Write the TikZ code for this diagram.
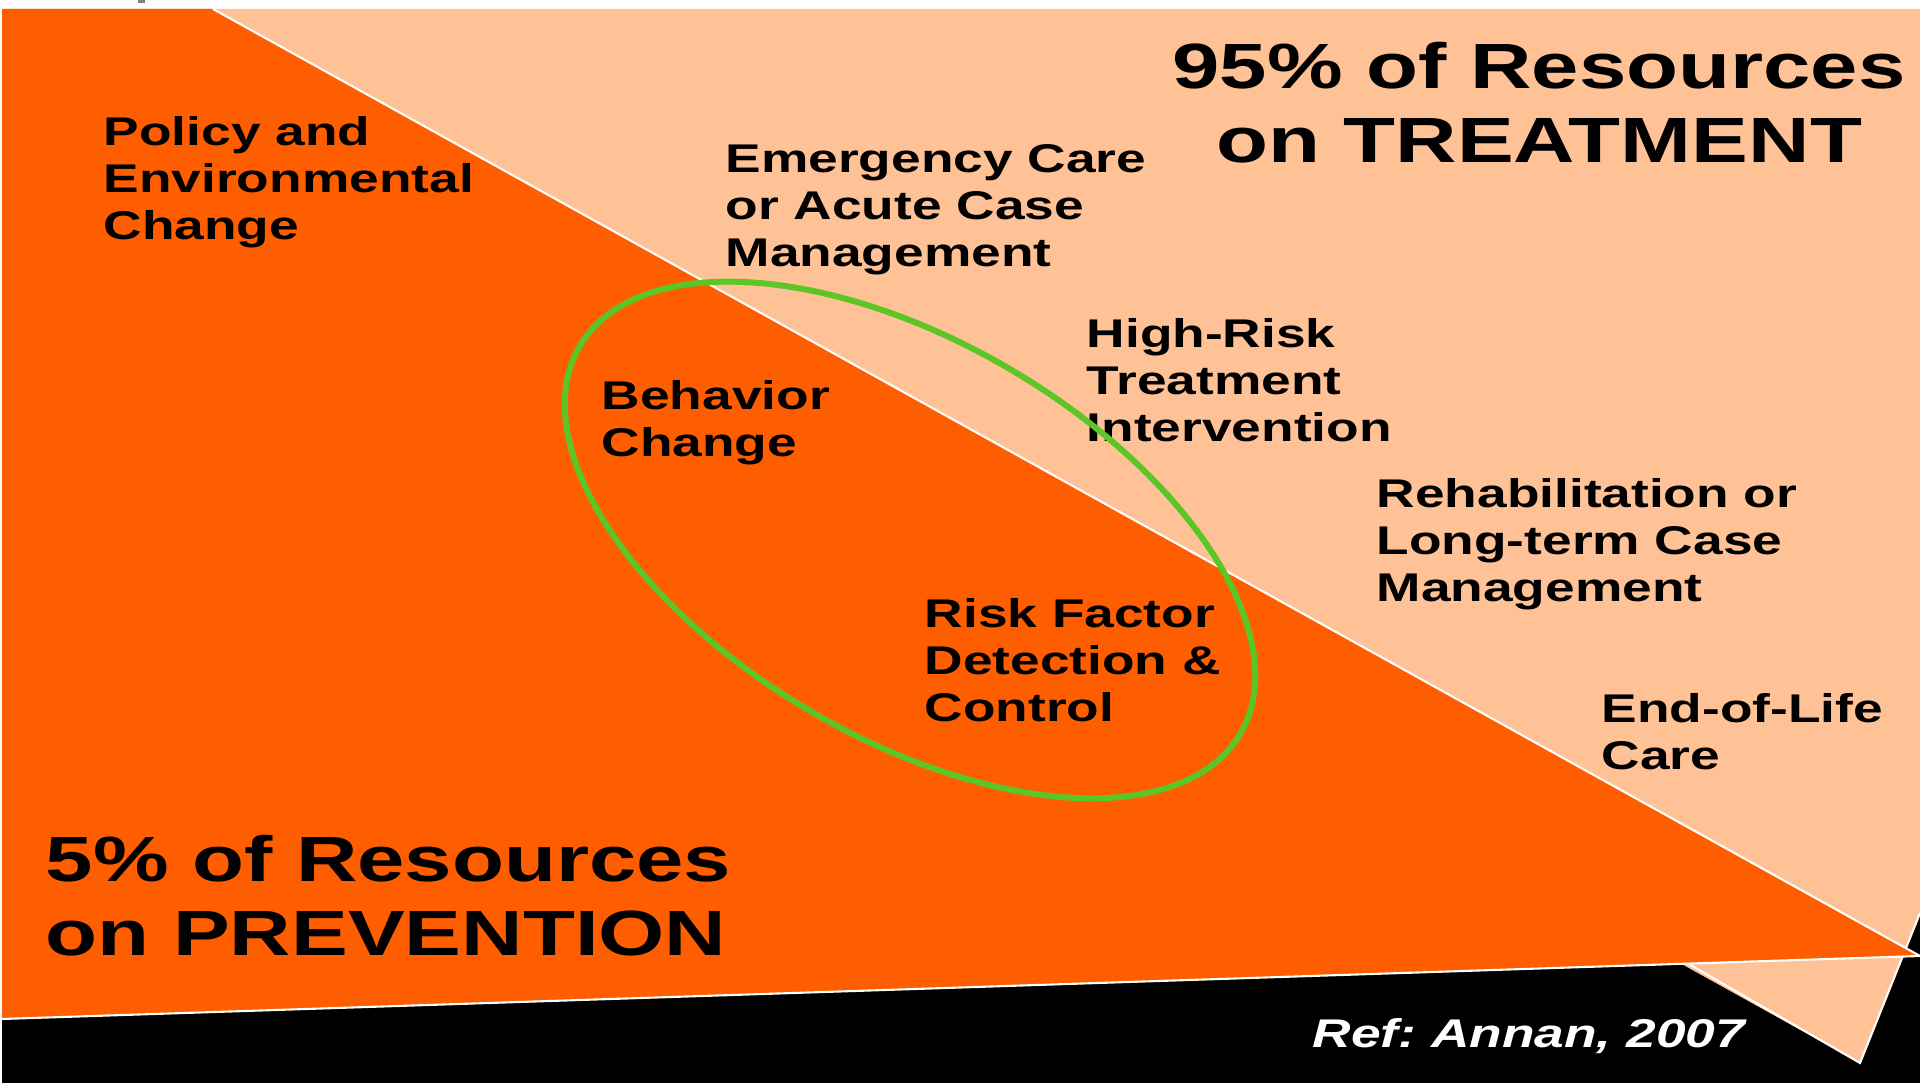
\documentclass[tikz,border=0pt]{standalone}
\usepackage{fontspec}
\setmainfont[FakeStretch=1.33]{Liberation Sans}
\frenchspacing

\definecolor{prevorange}{RGB}{255,94,0}
\definecolor{treatpeach}{RGB}{255,193,150}
\definecolor{ringgreen}{RGB}{92,198,38}

\begin{document}
\begin{tikzpicture}[
    stage/.style={anchor=base west, align=left, inner sep=0,
        font=\fontsize{11.4}{13.4}\selectfont\bfseries},
    share/.style={inner sep=0, font=\fontsize{18.2}{21.3}\selectfont\bfseries}]
    \useasboundingbox (0,0) rectangle (19.2,10.83);
    \fill [white] (0,0) rectangle (19.2,10.83);
    \fill [gray] (1.38,10.83) rectangle (1.45,10.80);

    % black floor, treatment wedge, prevention wedge
    \fill [black] (0.02,0) rectangle (19.2,10.74);
    \fill [treatpeach] (18.60,0.20) -- (19.20,1.70) -- (19.20,10.74) -- (0.02,10.74) -- (0.02,10.51) -- cycle;
    \draw [white, line width=0.6pt] (16.87,1.20) -- (18.60,0.20) -- (19.20,1.70);
    \fill [prevorange] (2.13,10.74) -- (19.20,1.27) -- (0.02,0.64) -- (0.02,10.74) -- cycle;
    \draw [white, line width=0.6pt] (2.13,10.74) -- (19.20,1.27) -- (0.02,0.64);

    % stages (base = last line)
    \node (policy) at (1.03,8.43) [stage] {Policy and\\Environmental\\Change};
    \node (emerg) at (7.25,8.16) [stage] {Emergency Care\\or Acute Case\\Management};
    \node (behav) at (6.01,6.26) [stage] {Behavior\\Change};
    \node (highrisk) at (10.86,6.41) [stage] {High-Risk\\Treatment\\Intervention};
    \node (rehab) at (13.76,4.81) [stage] {Rehabilitation or\\Long-term Case\\Management};
    \node (riskf) at (9.24,3.61) [stage] {Risk Factor\\Detection \&\\Control};
    \node (eol) at (16.01,3.13) [stage] {End-of-Life\\Care};

    % shares of resources
    \node (treat) at (15.39,9.20) [share, anchor=base, align=center] {95\% of Resources\\on TREATMENT};
    \node (prev) at (0.45,1.27) [share, anchor=base west, align=left] {5\% of Resources\\on PREVENTION};
    \node (ref) at (13.12,0.35) [anchor=base west, inner sep=0, text=white,
        font=\fontsize{11.4}{13.4}\selectfont\bfseries\itshape] {Ref: Annan, 2007};

    \draw [ringgreen, line width=0.06cm, rotate around={-30.4:(9.10,5.43)}] (9.10,5.43) ellipse (3.83 and 1.98);
\end{tikzpicture}
\end{document}
